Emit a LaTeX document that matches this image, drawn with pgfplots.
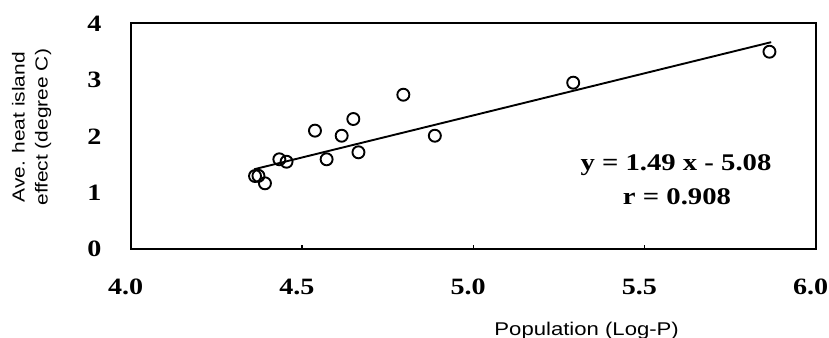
\documentclass[border=0pt]{standalone}
\usepackage{fontspec}
\setmainfont{Liberation Serif}[FakeStretch=1.2]
\newfontfamily\arial{Liberation Sans}[FakeStretch=1.2]
\usepackage{pgfplots}
\pgfplotsset{compat=1.18}
\begin{document}
\begin{tikzpicture}[x=1bp,y=1bp]
\useasboundingbox (-130.7bp,-88.7bp) rectangle (698.3bp,249.3bp);
\begin{axis}[
  at={(0,0)}, anchor=south west,
  scale only axis, width=685bp, height=226bp,
  xmin=4, xmax=6, ymin=0, ymax=4,
  xtick={4,4.5,5,5.5,6}, ytick={0,1,2,3,4},
  xticklabels={4.0,4.5,5.0,5.5,6.0},
  /pgf/number format/assume math mode=true,
  axis line style={line width=2bp},
  tick align=inside, xtick pos=bottom, ytick pos=left,
  major tick length=4bp,
  xtick style={line width=1.2bp, black},
  ytick style={draw=none},
  ticklabel style={font=\fontsize{23.5}{23.5}\selectfont\bfseries},
  xticklabel style={anchor=center, yshift=-38bp, xshift=-5bp},
  yticklabel style={anchor=east, inner sep=0pt, xshift=-29bp},
  xlabel={Population (Log-P)},
  xlabel style={font=\arial\fontsize{18.5}{18.5}\selectfont, at={(456bp,-81bp)}, anchor=center},
  ylabel={Ave. heat island\\effect (degree C)},
  ylabel style={font=\arial\fontsize{17.5}{23}\selectfont, align=center, at={(-99bp,122bp)}, anchor=center},
  clip=false,
]
\addplot[only marks, mark=o, mark size=6bp, line width=1.9bp, black] coordinates {
(4.363,1.297) (4.373,1.30) (4.392,1.168) (4.434,1.593) (4.455,1.55)
(4.538,2.10) (4.572,1.593) (4.616,2.01) (4.650,2.306) (4.665,1.717)
(4.796,2.736) (4.888,2.01) (5.292,2.949) (5.865,3.497)
};
\addplot[line width=1.9bp, black] coordinates {(4.36,1.416) (5.87,3.666)};
\node[font=\fontsize{24}{24}\selectfont\bfseries, anchor=base] at (axis cs:5.592,1.403) {y = 1.49 x - 5.08};
\node[font=\fontsize{24}{24}\selectfont\bfseries, anchor=base] at (axis cs:5.595,0.80) {r = 0.908};
\end{axis}
\end{tikzpicture}
\end{document}
